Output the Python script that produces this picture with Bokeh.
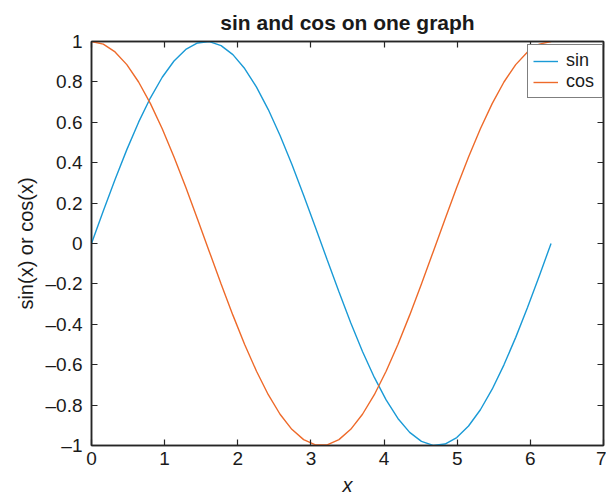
from bokeh.plotting import figure
from bokeh.models import (Range1d, LinearAxis, FixedTicker, CustomJSTickFormatter,
                          Legend, LegendItem)
from bokeh.embed import file_html
from bokeh.resources import INLINE

x_vals = [0.000, 0.161, 0.322, 0.483, 0.644, 0.806, 0.967, 1.128, 1.289, 1.450,
          1.611, 1.772, 1.933, 2.094, 2.256, 2.417, 2.578, 2.739, 2.900, 3.061,
          3.222, 3.383, 3.544, 3.705, 3.867, 4.028, 4.189, 4.350, 4.511, 4.672,
          4.833, 4.994, 5.155, 5.317, 5.478, 5.639, 5.800, 5.961, 6.122, 6.283]
sin_vals = [0.0000, 0.1604, 0.3167, 0.4647, 0.6007, 0.7213, 0.8230, 0.9034, 0.9605, 0.9927,
            0.9992, 0.9798, 0.9350, 0.8660, 0.7745, 0.6631, 0.5343, 0.3919, 0.2393, 0.0805,
            -0.0805, -0.2393, -0.3919, -0.5343, -0.6631, -0.7745, -0.8660, -0.9350, -0.9798, -0.9992,
            -0.9927, -0.9605, -0.9034, -0.8230, -0.7213, -0.6007, -0.4647, -0.3167, -0.1604, 0.0000]
cos_vals = [1.0000, 0.9871, 0.9485, 0.8855, 0.7995, 0.6926, 0.5681, 0.4287, 0.2782, 0.1205,
            -0.0403, -0.2000, -0.3546, -0.5000, -0.6325, -0.7485, -0.8453, -0.9200, -0.9709, -0.9968,
            -0.9968, -0.9709, -0.9200, -0.8453, -0.7485, -0.6325, -0.5000, -0.3546, -0.2000, -0.0403,
            0.1205, 0.2782, 0.4287, 0.5681, 0.6926, 0.7995, 0.8855, 0.9485, 0.9871, 1.0000]
x_ticks = [0, 1, 2, 3, 4, 5, 6, 7]
y_ticks = [-1, -0.8, -0.6, -0.4, -0.2, 0, 0.2, 0.4, 0.6, 0.8, 1]

FONT = "Liberation Sans"
AX = "#262626"
SIN_C = "#1A9AD6"
COS_C = "#EE6A2A"

p = figure(width=606, height=498, output_backend="svg", toolbar_location=None,
           x_range=Range1d(0, 7), y_range=Range1d(-1, 1),
           min_border_left=91, min_border_right=3, min_border_top=40, min_border_bottom=53,
           title="sin and cos on one graph")
p.title.text_font = FONT
p.title.text_font_size = "21px"
p.title.text_font_style = "bold"
p.title.align = "center"
p.title.text_color = "#1a1a1a"
p.title.offset = 0
p.title.standoff = 16

p.grid.visible = False
p.outline_line_color = AX
p.outline_line_width = 1.5
p.background_fill_color = "white"
p.border_fill_color = "white"

fmt = CustomJSTickFormatter(code="""
const v = Math.round(tick*10)/10;
return (v < 0 ? "\u2013" : "") + String(Math.abs(v));
""")

xa = p.xaxis[0]
xa.ticker = FixedTicker(ticks=x_ticks)
xa.formatter = fmt
xa.axis_label = "x"
xa.axis_label_text_font_style = "italic"
ya = p.yaxis[0]
ya.ticker = FixedTicker(ticks=y_ticks)
ya.formatter = fmt
ya.axis_label = "sin(x) or cos(x)"
ya.axis_label_text_font_style = "normal"

for ax in (xa, ya):
    ax.major_tick_in = 6
    ax.major_tick_out = 0
    ax.minor_tick_line_color = None
    ax.axis_line_color = AX
    ax.axis_line_width = 1.5
    ax.major_tick_line_color = AX
    ax.major_tick_line_width = 1.2
    ax.major_label_text_font = FONT
    ax.major_label_text_font_size = "19px"
    ax.major_label_text_color = "#1a1a1a"
    ax.axis_label_text_font = FONT
    ax.axis_label_text_font_size = "20px"
    ax.axis_label_text_color = "#1a1a1a"
xa.major_label_standoff = 6
ya.major_label_standoff = 9
xa.axis_label_standoff = 6
ya.axis_label_standoff = 6

for loc, tks in (("above", x_ticks), ("right", y_ticks)):
    a = LinearAxis(ticker=FixedTicker(ticks=tks))
    a.major_label_text_font_size = "0px"
    a.major_tick_in = 6
    a.major_tick_out = 0
    a.minor_tick_line_color = None
    a.axis_line_color = AX
    a.axis_line_width = 1.5
    a.major_tick_line_color = AX
    a.major_tick_line_width = 1.2
    a.major_label_standoff = 0
    p.add_layout(a, loc)

r_sin = p.line(x_vals, sin_vals, line_color=SIN_C, line_width=1.4)
r_cos = p.line(x_vals, cos_vals, line_color=COS_C, line_width=1.4)

legend = Legend(items=[LegendItem(label="sin", renderers=[r_sin]),
                       LegendItem(label="cos", renderers=[r_cos])],
                location=(436, 347))
legend.label_text_font = FONT
legend.label_text_font_size = "18px"
legend.label_text_color = "#1a1a1a"
legend.label_height = 14
legend.label_width = 31
legend.glyph_height = 14
legend.glyph_width = 25
legend.label_standoff = 8
legend.spacing = 0
legend.padding = 5
legend.margin = 0
legend.border_line_color = "#000000"
legend.border_line_width = 1.5
legend.background_fill_alpha = 1
p.add_layout(legend, "center")

open("out.html", "w").write(file_html(p, INLINE))
